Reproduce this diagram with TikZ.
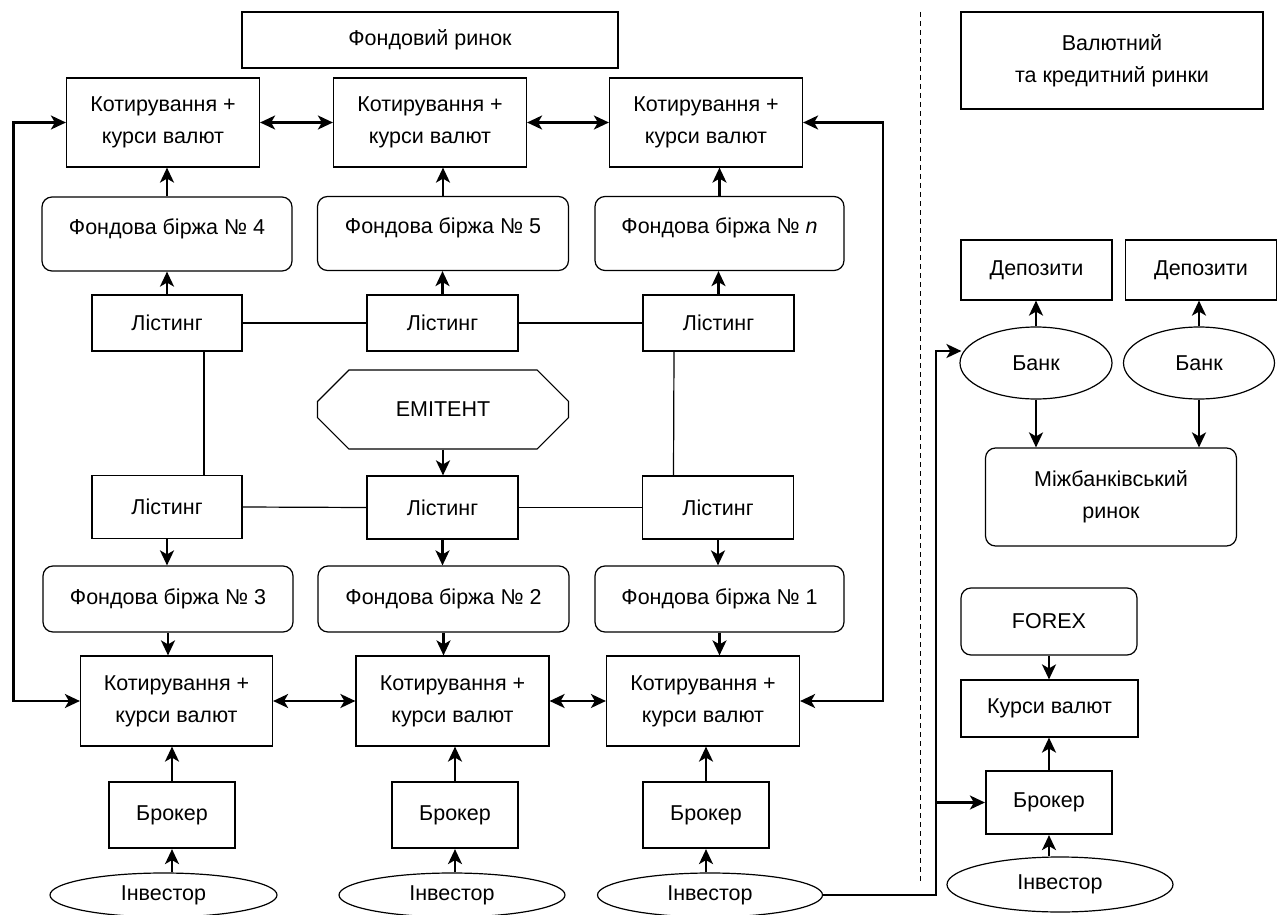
\documentclass[tikz,border=0pt]{standalone}
\usepackage{fontspec}
\setmainfont{Liberation Sans}
\usetikzlibrary{positioning, arrows.meta, calc, shapes.geometric, shapes.misc}

\tikzset{
  every node/.style={font=\fontsize{21.5}{32}\selectfont, align=center, inner sep=2pt},
  box/.style={draw, line width=1.2pt, rectangle},
  rbox/.style={box, rounded corners=10pt},
  upper/.style={text height=16pt, text depth=16pt},
  kot/.style={box, minimum width=#1, minimum height=89pt},
  kot/.default=193pt,
  lst/.style={box, minimum width=#1, minimum height=56pt},
  lst/.default=151pt,
  brok/.style={box, line width=2.2pt, minimum width=#1, minimum height=66pt},
  brok/.default=126pt,
  oval/.style={draw, ellipse, line width=1.2pt, inner sep=0pt},
  octa/.style={draw, chamfered rectangle, chamfered rectangle xsep=23pt,
    chamfered rectangle ysep=22pt, line width=1.2pt},
  arr/.style={line width=2.2pt, -{Stealth[length=15pt,width=14pt,inset=4pt]}},
  darr/.style={line width=2.2pt,
    {Stealth[length=15pt,width=14pt,inset=4pt]}-{Stealth[length=15pt,width=14pt,inset=4pt]}},
  link/.style={line width=1.2pt},
}

\begin{document}
\begin{tikzpicture}[x=1pt, y=-1pt]
	\useasboundingbox (0,0) rectangle (1280,915);

	% headers
	\node[box, minimum width=376pt, minimum height=56pt] (fond) at (430,40) {Фондовий ринок};
	\node[box, minimum width=302pt, minimum height=97pt] (valk) at (1112,60.5) {Валютний\\та кредитний ринки};

	% upper row of exchanges
	\node[kot] (kt4) at (163,122.5) {Котирування +\\курси валют};
	\node[kot] (kt5) at (430,122.5) {Котирування +\\курси валют};
	\node[kot] (ktn) at (706,122.5) {Котирування +\\курси валют};
	\node[rbox, upper, minimum width=250pt, minimum height=74pt] (b4) at (167,234) {Фондова біржа № 4};
	\node[rbox, upper, minimum width=251pt, minimum height=74pt] (b5) at (443,233.5) {Фондова біржа № 5};
	\node[rbox, upper, minimum width=249pt, minimum height=74pt] (bn) at (719.5,233.5) {Фондова біржа № \textit{n}};
	\node[lst=150pt] (l4) at (167,323) {Лістинг};
	\node[lst] (l5) at (442.5,323) {Лістинг};
	\node[lst] (ln) at (718.5,323) {Лістинг};

	\node[octa, minimum width=251pt, minimum height=79pt] (emit) at (443,409.5) {ЕМІТЕНТ};

	% lower row of exchanges
	\node[lst=150pt, minimum height=63pt] (l3) at (167,507) {Лістинг};
	\node[lst, minimum height=63pt] (l2) at (442.5,507.5) {Лістинг};
	\node[lst, minimum height=63pt] (l1) at (718,507.5) {Лістинг};
	\node[rbox, minimum width=250pt, minimum height=66pt] (b3) at (168,599) {Фондова біржа № 3};
	\node[rbox, minimum width=251pt, minimum height=66pt] (b2) at (443.5,599) {Фондова біржа № 2};
	\node[rbox, minimum width=249pt, minimum height=66pt] (b1) at (719.5,599) {Фондова біржа № 1};
	\node[kot=192pt, minimum height=90pt] (k3) at (176.5,701) {Котирування +\\курси валют};
	\node[kot, minimum height=90pt] (k2) at (452.5,701) {Котирування +\\курси валют};
	\node[kot, minimum height=90pt] (k1) at (703,701) {Котирування +\\курси валют};
	\node[brok] (br3) at (172,815) {Брокер};
	\node[brok] (br2) at (455,815) {Брокер};
	\node[brok] (br1) at (706,815) {Брокер};
	\node[oval, minimum width=227pt, minimum height=44pt] (i3) at (163.5,895) {Інвестор};
	\node[oval, minimum width=226pt, minimum height=44pt] (i2) at (452,895) {Інвестор};
	\node[oval, minimum width=225pt, minimum height=44pt] (i1) at (710,895) {Інвестор};

	% currency and credit markets
	\node[box, minimum width=151pt, minimum height=60pt] (dep1) at (1036.5,270) {Депозити};
	\node[box, minimum width=151pt, minimum height=60pt] (dep2) at (1201,270) {Депозити};
	\node[oval, minimum width=152pt, minimum height=72pt] (bank1) at (1036,363) {Банк};
	\node[oval, minimum width=151pt, minimum height=72pt] (bank2) at (1199,363) {Банк};
	\node[rbox, minimum width=251pt, minimum height=98pt] (mb) at (1111,497) {Міжбанківський\\ринок};
	\node[rbox, minimum width=176pt, minimum height=67pt] (forex) at (1049,621.5) {FOREX};
	\node[box, minimum width=177pt, minimum height=57pt] (kv) at (1049.5,708.5) {Курси валют};
	\node[brok, minimum height=63pt] (brf) at (1049,802.5) {Брокер};
	\node[oval, minimum width=226pt, minimum height=55pt] (invf) at (1060,884.5) {Інвестор};

	% separator
	\draw[line width=1pt, dash pattern=on 5pt off 4pt] (920,12) -- (920,883);

	% quotes exchange
	\draw[darr] (kt4.east) -- (kt5.west);
	\draw[darr] (kt5.east) -- (ktn.west);
	\draw[darr] (k3.east) -- (k2.west);
	\draw[darr] (k2.east) -- (k1.west);
	\draw[darr] (kt4.west) -- ++(-52.5,0) |- (k3.west);
	\draw[darr] (ktn.east) -- ++(79.5,0) |- (k1.east);

	% listings
	\draw[link] (l4.east) -- (l5.west);
	\draw[link] (l5.east) -- (ln.west);
	\draw[link] (l3.east) -- (l2.west);
	\draw[link] (l2.east) -- (l1.west);
	\draw[link] ([xshift=37pt]l4.south) -- ([xshift=37pt]l3.north);
	\draw[link] ([xshift=-44.5pt]ln.south) -- ([xshift=-44.5pt]l1.north);
	\draw[arr] (emit.south) -- (emit.south |- l2.north);

	\foreach \l/\b/\k in {l4/b4/kt4, l5/b5/kt5, ln/bn/ktn}{
		\draw[arr] (\l.north) -- (\l.north |- \b.south);
		\draw[arr] (\b.north) -- (\b.north |- \k.south);
	}
	\foreach \l/\b/\k/\r/\i in {l3/b3/k3/br3/i3, l2/b2/k2/br2/i2, l1/b1/k1/br1/i1}{
		\draw[arr] (\l.south) -- (\l.south |- \b.north);
		\draw[arr] (\b.south) -- (\b.south |- \k.north);
		\draw[arr] (\r.north) -- (\r.north |- \k.south);
		\draw[arr] (\r.south |- \i.north) -- (\r.south);
	}

	% right part
	\coordinate (jct) at (936,351);
	\draw[arr, shorten >=-2pt] (i1.east) -| (jct) -- (jct -| bank1.west);
	\draw[arr] (jct |- brf.west) -- (brf.west);
	\draw[arr] (bank1.north) -- (bank1.north |- dep1.south);
	\draw[arr] (bank2.north) -- (bank2.north |- dep2.south);
	\draw[arr] (bank1.south) -- (bank1.south |- mb.north);
	\draw[arr] (bank2.south) -- (bank2.south |- mb.north);
	\draw[arr] (forex.south) -- (forex.south |- kv.north);
	\draw[arr] (brf.north) -- (brf.north |- kv.south);
	\draw[arr] (brf.south |- invf.north) -- (brf.south);
\end{tikzpicture}
\end{document}
